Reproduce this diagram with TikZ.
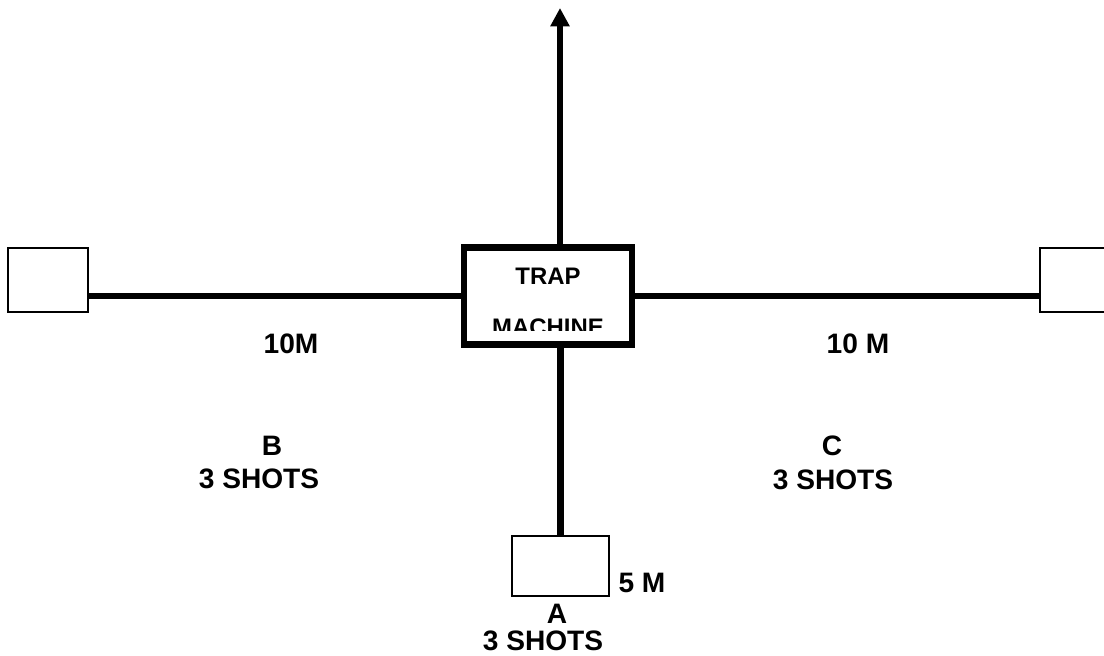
\documentclass[tikz,border=0pt]{standalone}
\usepackage{fontspec}
\setmainfont{Liberation Sans}
\usetikzlibrary{arrows.meta,positioning}

\begin{document}
\begin{tikzpicture}[
    x=0.025cm, y=-0.025cm,
    box/.style={draw, line width=1.1pt, minimum width=2cm, minimum height=1.6cm, inner sep=0pt},
    machine/.style={draw, line width=4.3pt, minimum width=4.2cm, minimum height=2.425cm, inner sep=0pt},
    wire/.style={line width=4.3pt},
    arrow/.style={-{Triangle[length=13pt,width=13pt]}, line width=4.3pt},
    lbl/.style={font=\bfseries\fontsize{20}{24}\selectfont, inner sep=0pt, anchor=base},
    inlbl/.style={lbl, font=\bfseries\fontsize{17}{20}\selectfont}
  ]
    \useasboundingbox (0,0) rectangle (1104,656);
    % stations and trap
    \node[machine] (trap) at (548,296) {};
    \node[box] (b) at (48,280) {};
    \node[box] (c) at (1080,280) {};
    \node[box, minimum width=2.425cm, minimum height=1.5cm] (a) at (560.5,566) {};
    \coordinate (tip) at (560,8);
    % lines
    \draw[wire] (trap.west) -- (trap.west -| b.east);
    \draw[wire] (trap.east) -- (trap.east -| c.west);
    \draw[wire] (a.north) -- (a.north |- trap.south);
    \draw[arrow] (tip |- trap.north) -- (tip);
    % labels
    \node[inlbl] (trapname) at (548,284) {TRAP};
    \begin{scope}
      \clip (470,250) rectangle (626,330);
      \node[inlbl] (machname) at (548,335) {MACHINE};
    \end{scope}
    \node[lbl] (distb) at (291,353) {10M};
    \node[lbl] (distc) at (858,353) {10 M};
    \node[lbl] (dista) at (642,592) {5 M};
    \node[lbl] (nameb) at (272,455) {B};
    \node[lbl] (shotsb) at (259,488) {3 SHOTS};
    \node[lbl] (namec) at (832,455) {C};
    \node[lbl] (shotsc) at (833,489) {3 SHOTS};
    \node[lbl] (namea) at (557,623) {A};
    \node[lbl] (shotsa) at (543,650) {3 SHOTS};
  \end{tikzpicture}
\end{document}
